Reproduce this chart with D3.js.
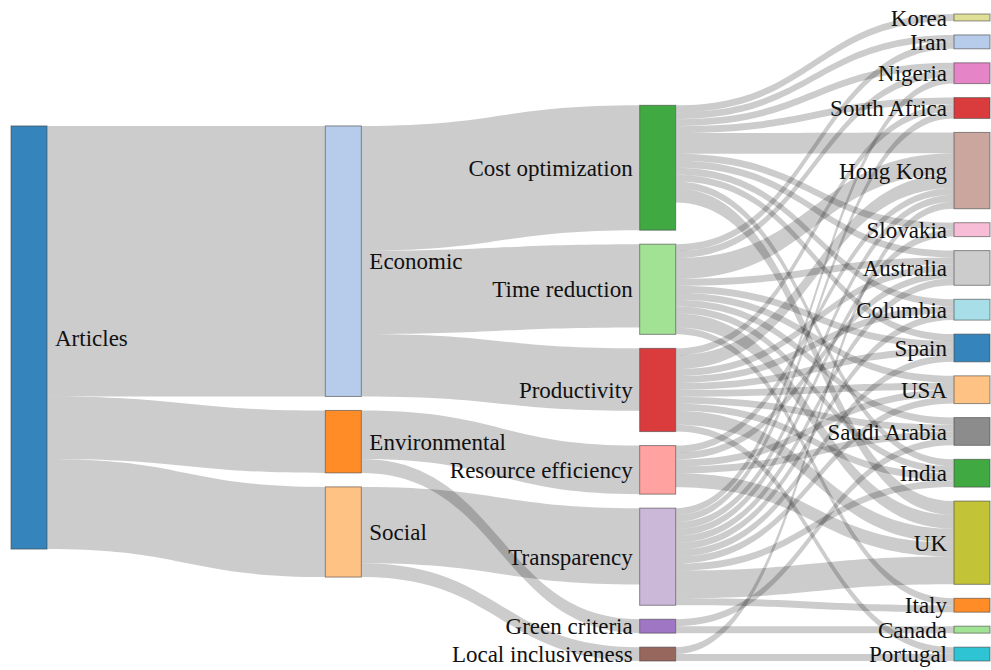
<!DOCTYPE html>
<html lang="en">
<head>
  <meta charset="utf-8">
  <style>
    html, body {
      margin: 0;
      padding: 0;
      background: #fff;
      width: 100%;
      height: 100%;
      overflow: hidden;
    }
    svg { display: block; }
    .label {
      font-family: "Liberation Serif", "Times New Roman", serif;
      font-size: 23px;
      fill: #111;
    }
  </style>
</head>
<body>
<svg width="991" height="670"></svg>

<script src="https://d3js.org/d3.v7.min.js"></script>
<script>
// columns, top to bottom as they appear
const sources = ["Articles"];
const dimensions = ["Economic", "Environmental", "Social"];
const criteria = ["Cost optimization", "Time reduction", "Productivity", "Resource efficiency",
  "Transparency", "Green criteria", "Local inclusiveness"];
const countries = ["Korea", "Iran", "Nigeria", "South Africa", "Hong Kong", "Slovakia", "Australia",
  "Columbia", "Spain", "USA", "Saudi Arabia", "India", "UK", "Italy", "Canada", "Portugal"];

// flows: [source, target, number of articles]
const articleLinks = [
  ["Articles", "Economic", 39],
  ["Articles", "Environmental", 9],
  ["Articles", "Social", 13]
];
const dimensionLinks = [
  ["Economic", "Cost optimization", 18],
  ["Economic", "Time reduction", 12],
  ["Economic", "Productivity", 9],
  ["Environmental", "Resource efficiency", 7],
  ["Environmental", "Green criteria", 2],
  ["Social", "Transparency", 11],
  ["Social", "Local inclusiveness", 2]
];
const countryLinks = [
  ["Cost optimization", "Korea", 1], ["Cost optimization", "Iran", 1], ["Cost optimization", "Nigeria", 1],
  ["Cost optimization", "South Africa", 1], ["Cost optimization", "Hong Kong", 3], ["Cost optimization", "Slovakia", 1],
  ["Cost optimization", "Australia", 1], ["Cost optimization", "Columbia", 1], ["Cost optimization", "Spain", 1],
  ["Cost optimization", "India", 1], ["Cost optimization", "UK", 2],
  ["Time reduction", "Iran", 1], ["Time reduction", "Nigeria", 1], ["Time reduction", "Hong Kong", 3],
  ["Time reduction", "Australia", 1], ["Time reduction", "Spain", 1], ["Time reduction", "USA", 1],
  ["Time reduction", "Saudi Arabia", 1], ["Time reduction", "India", 1], ["Time reduction", "UK", 2],
  ["Time reduction", "Italy", 1],
  ["Productivity", "South Africa", 1], ["Productivity", "Hong Kong", 2], ["Productivity", "Australia", 1],
  ["Productivity", "Columbia", 1], ["Productivity", "Spain", 1], ["Productivity", "USA", 1],
  ["Productivity", "Saudi Arabia", 1], ["Productivity", "India", 1], ["Productivity", "UK", 2],
  ["Productivity", "Portugal", 1],
  ["Resource efficiency", "Hong Kong", 1], ["Resource efficiency", "Australia", 1], ["Resource efficiency", "USA", 1],
  ["Resource efficiency", "Saudi Arabia", 1], ["Resource efficiency", "UK", 2],
  ["Transparency", "Nigeria", 1], ["Transparency", "South Africa", 1], ["Transparency", "Hong Kong", 1],
  ["Transparency", "Slovakia", 1], ["Transparency", "Australia", 1], ["Transparency", "Columbia", 1],
  ["Transparency", "Spain", 1], ["Transparency", "USA", 1], ["Transparency", "India", 1],
  ["Transparency", "UK", 4], ["Transparency", "Italy", 1],
  ["Green criteria", "Saudi Arabia", 1], ["Green criteria", "Canada", 1],
  ["Local inclusiveness", "Hong Kong", 1], ["Local inclusiveness", "Portugal", 1]
];

// node colours follow the category20 palette in the order the nodes were declared
const paletteOrder = ["Articles", "Economic", "Environmental", "Social", "Cost optimization", "Time reduction",
  "Productivity", "Resource efficiency", "Green criteria", "Transparency", "Local inclusiveness",
  "Hong Kong", "Nigeria", "Slovakia", "Saudi Arabia", "Australia", "UK", "Korea", "Portugal", "Columbia",
  "Spain", "Iran", "Italy", "USA", "India", "Canada", "South Africa"];
const category20 = ["#1f77b4", "#aec7e8", "#ff7f0e", "#ffbb78", "#2ca02c", "#98df8a", "#d62728", "#ff9896",
  "#9467bd", "#c5b0d5", "#8c564b", "#c49c94", "#e377c2", "#f7b6d2", "#7f7f7f", "#c7c7c7",
  "#bcbd22", "#dbdb8d", "#17becf", "#9edae5"];

const svg = d3.select("svg");
const color = d3.scaleOrdinal().domain(paletteOrder).range(category20);

// build graph
const columns = [sources, dimensions, criteria, countries].map(c => c.map(name => ({ name })));
const nodes = columns.flat();
const byName = new Map(nodes.map(n => [n.name, n]));
nodes.forEach(n => { n.sourceLinks = []; n.targetLinks = []; });
const links = [...articleLinks, ...dimensionLinks, ...countryLinks].map(([s, t, v], i) => {
  const l = { source: byName.get(s), target: byName.get(t), value: v, index: i };
  l.source.sourceLinks.push(l);
  l.target.targetLinks.push(l);
  return l;
});
nodes.forEach(n => {
  n.value = Math.max(d3.sum(n.sourceLinks, l => l.value), d3.sum(n.targetLinks, l => l.value));
});

// sankey layout
const x0 = 11, x1 = 990, y0 = 14, y1 = 661;
const nodeWidth = 36, py = 14;

const xPos = d3.scalePoint().domain(d3.range(columns.length)).range([x0, x1 - nodeWidth]);
columns.forEach((col, i) => col.forEach(n => {
  n.layer = i;
  n.x0 = xPos(i);
  n.x1 = n.x0 + nodeWidth;
}));

const ky = d3.min(columns, c => (y1 - y0 - (c.length - 1) * py) / d3.sum(c, n => n.value));
const size = d3.scaleLinear().domain([0, 1]).range([0, ky]);
links.forEach(l => l.width = size(l.value));

const byTargetY = (a, b) => a.target.y0 - b.target.y0 || a.index - b.index;
const bySourceY = (a, b) => a.source.y0 - b.source.y0 || a.index - b.index;
function reorderLinks() {
  nodes.forEach(n => { n.sourceLinks.sort(byTargetY); n.targetLinks.sort(bySourceY); });
}

// each column starts centred in the available height
columns.forEach(col => {
  let y = y0;
  col.forEach(n => { n.y0 = y; n.y1 = y + size(n.value); y = n.y1 + py; });
  const extra = (y1 - y + py) / (col.length + 1);
  col.forEach((n, i) => { n.y0 += extra * (i + 1); n.y1 += extra * (i + 1); });
});

// push overlapping nodes down, then back up from the bottom edge
function resolveCollisions(col) {
  let y = y0, n, dy;
  for (let i = 0; i < col.length; i++) {
    n = col[i];
    dy = y - n.y0;
    if (dy > 0) { n.y0 += dy; n.y1 += dy; }
    y = n.y1 + py;
  }
  dy = y - py - y1;
  if (dy > 0) {
    n.y0 -= dy; n.y1 -= dy;
    y = n.y0;
    for (let i = col.length - 2; i >= 0; i--) {
      n = col[i];
      dy = n.y1 + py - y;
      if (dy > 0) { n.y0 -= dy; n.y1 -= dy; }
      y = n.y0;
    }
  }
}

// where a node's top must sit so that an incoming ribbon runs level
function alignedTop(l) {
  let y = l.source.y0;
  for (const s of l.source.sourceLinks) { if (s === l) break; y += s.width; }
  for (const t of l.target.targetLinks) { if (t === l) break; y -= t.width; }
  return y;
}

// one left-to-right pass
for (let i = 1; i < columns.length; i++) {
  reorderLinks();
  columns[i].forEach(n => {
    const h = n.y1 - n.y0;
    n.y0 = d3.sum(n.targetLinks, l => alignedTop(l) * l.value) / d3.sum(n.targetLinks, l => l.value);
    n.y1 = n.y0 + h;
  });
  resolveCollisions(columns[i]);
}

reorderLinks();
nodes.forEach(n => {
  let ys = n.y0, yt = n.y0;
  n.sourceLinks.forEach(l => { l.sy = ys; ys += l.width; });
  n.targetLinks.forEach(l => { l.ty = yt; yt += l.width; });
});

// links as filled ribbons
function ribbon(l) {
  const xa = l.source.x1, xb = l.target.x0, xm = (xa + xb) / 2;
  const s0 = l.sy, s1 = l.sy + l.width, t0 = l.ty, t1 = l.ty + l.width;
  return `M${xa},${s0}C${xm},${s0} ${xm},${t0} ${xb},${t0}` +
         `L${xb},${t1}C${xm},${t1} ${xm},${s1} ${xa},${s1}Z`;
}

svg.append("g")
  .selectAll("path")
  .data(links)
  .join("path")
  .attr("d", ribbon)
  .attr("fill", "rgba(0,0,0,0.2)");

svg.append("g")
  .selectAll("rect")
  .data(nodes)
  .join("rect")
  .attr("x", d => d.x0)
  .attr("y", d => d.y0)
  .attr("width", d => d.x1 - d.x0)
  .attr("height", d => d.y1 - d.y0)
  .attr("fill", d => color(d.name))
  .attr("fill-opacity", 0.9)
  .attr("stroke", "#444")
  .attr("stroke-opacity", 0.6)
  .attr("stroke-width", 1);

svg.append("g")
  .selectAll("text")
  .data(nodes)
  .join("text")
  .attr("class", "label")
  .attr("x", d => d.layer < 2 ? d.x1 + 8 : d.x0 - 7)
  .attr("y", d => (d.y0 + d.y1) / 2)
  .attr("dy", "0.35em")
  .attr("text-anchor", d => d.layer < 2 ? "start" : "end")
  .text(d => d.name);
</script>
</body>
</html>
